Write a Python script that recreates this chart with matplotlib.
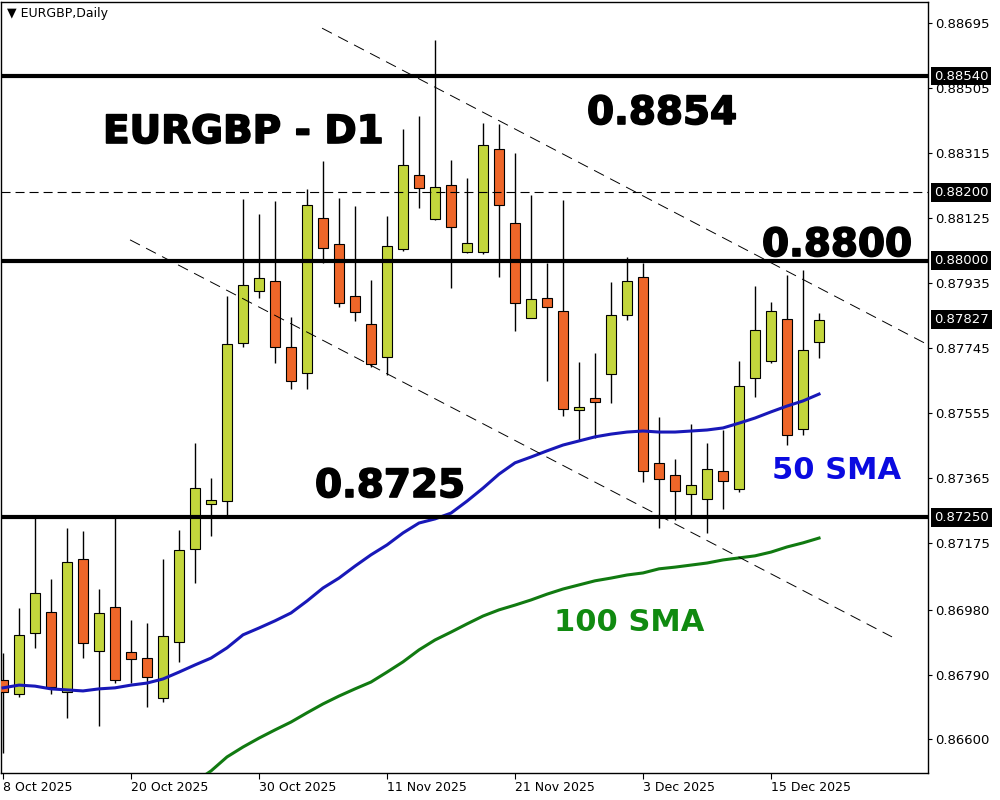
import numpy as np
import pandas as pd
import matplotlib
matplotlib.use('Agg')
import matplotlib.pyplot as plt
import matplotlib.patheffects as pe
import matplotlib.transforms as mtransforms

plt.rcParams['font.family'] = ['DejaVu Sans']
plt.rcParams['lines.scale_dashes'] = False

# EURGBP daily candles, 8 Oct - 18 Dec 2025
dates = pd.bdate_range('2025-10-08', periods=52)

opens = [0.86774, 0.86733, 0.86911, 0.86973, 0.86739, 0.87128, 0.86859, 0.86987,
         0.86856, 0.86838, 0.86721, 0.86885, 0.87157, 0.87289, 0.87297, 0.87759,
         0.87911, 0.87941, 0.87748, 0.87672, 0.88125, 0.88049, 0.87897, 0.87815,
         0.87718, 0.88034, 0.88251, 0.88122, 0.88221, 0.88026, 0.88026, 0.88327,
         0.88110, 0.87833, 0.87891, 0.87853, 0.87564, 0.87599, 0.87669, 0.87841,
         0.87952, 0.87409, 0.87373, 0.87318, 0.87303, 0.87385, 0.87333, 0.87657,
         0.87707, 0.87830, 0.87508, 0.87762]
highs = [0.86853, 0.86985, 0.87256, 0.87069, 0.87218, 0.87210, 0.87040, 0.87256,
         0.86949, 0.86941, 0.87128, 0.87213, 0.87467, 0.87365, 0.87897, 0.88180,
         0.88137, 0.88175, 0.87835, 0.88210, 0.88292, 0.88183, 0.88160, 0.87944,
         0.88131, 0.88385, 0.88423, 0.88645, 0.88295, 0.88242, 0.88403, 0.88400,
         0.88315, 0.88192, 0.87993, 0.88178, 0.87704, 0.87730, 0.87938, 0.88011,
         0.87993, 0.87543, 0.87420, 0.87523, 0.87467, 0.87505, 0.87707, 0.87926,
         0.87879, 0.87958, 0.87973, 0.87847]
lows = [0.86560, 0.86724, 0.86868, 0.86733, 0.86663, 0.86838, 0.86640, 0.86765,
        0.86765, 0.86695, 0.86710, 0.86827, 0.87058, 0.87195, 0.87256, 0.87748,
        0.87891, 0.87701, 0.87625, 0.87625, 0.87993, 0.87865, 0.87824, 0.87689,
        0.87666, 0.88028, 0.88154, 0.88119, 0.87920, 0.88023, 0.88020, 0.87952,
        0.87795, 0.87833, 0.87648, 0.87546, 0.87473, 0.87482, 0.87584, 0.87827,
        0.87353, 0.87218, 0.87242, 0.87256, 0.87204, 0.87274, 0.87324, 0.87602,
        0.87701, 0.87461, 0.87490, 0.87716]
closes = [0.86739, 0.86906, 0.87028, 0.86754, 0.87119, 0.86882, 0.86970, 0.86774,
          0.86835, 0.86783, 0.86903, 0.87154, 0.87335, 0.87300, 0.87756, 0.87929,
          0.87949, 0.87748, 0.87648, 0.88163, 0.88037, 0.87876, 0.87850, 0.87698,
          0.88043, 0.88280, 0.88213, 0.88216, 0.88099, 0.88052, 0.88338, 0.88163,
          0.87876, 0.87888, 0.87865, 0.87566, 0.87572, 0.87587, 0.87841, 0.87941,
          0.87385, 0.87362, 0.87327, 0.87344, 0.87391, 0.87356, 0.87634, 0.87797,
          0.87853, 0.87490, 0.87739, 0.87827]

# moving averages
sma50 = [0.86751, 0.86759, 0.86756, 0.86748, 0.86745, 0.86742, 0.86748, 0.86751,
         0.86759, 0.86765, 0.86777, 0.86797, 0.86818, 0.86838, 0.86868, 0.86906,
         0.86926, 0.86947, 0.86970, 0.87005, 0.87043, 0.87072, 0.87107, 0.87140,
         0.87169, 0.87204, 0.87233, 0.87245, 0.87262, 0.87297, 0.87335, 0.87376,
         0.87409, 0.87426, 0.87444, 0.87461, 0.87473, 0.87485, 0.87493, 0.87499,
         0.87502, 0.87499, 0.87499, 0.87502, 0.87505, 0.87511, 0.87525, 0.87540,
         0.87558, 0.87575, 0.87590, 0.87610]
sma100_start = 12
sma100 = [0.86476, 0.86508, 0.86549, 0.86578, 0.86604, 0.86628, 0.86651, 0.86678,
          0.86704, 0.86727, 0.86748, 0.86768, 0.86797, 0.86827, 0.86862, 0.86891,
          0.86914, 0.86938, 0.86961, 0.86979, 0.86993, 0.87008, 0.87025, 0.87040,
          0.87052, 0.87064, 0.87072, 0.87081, 0.87087, 0.87099, 0.87104, 0.87110,
          0.87116, 0.87125, 0.87131, 0.87137, 0.87148, 0.87163, 0.87175, 0.87189]

levels = [0.8854, 0.8800, 0.8725]
dashed_level = 0.8820
last_price = 0.87827
price_ticks = [0.88695, 0.88505, 0.88315, 0.88125, 0.87935, 0.87745,
               0.87555, 0.87365, 0.87175, 0.86980, 0.86790, 0.86600]

# channel trendline anchors (bar index, price)
upper_x, upper_y = [19.94, 57.69], [0.88680, 0.87757]
lower_x, lower_y = [7.94, 55.56], [0.88061, 0.86900]

GREEN = '#c3d63c'
ORANGE = '#ee6629'

fig = plt.figure(figsize=(10, 8), dpi=100)
ax = fig.add_axes([0.001, 0.03375, 0.927, 0.96375])

x = np.arange(len(dates))
o = np.array(opens)
h = np.array(highs)
l = np.array(lows)
c = np.array(closes)
up = c >= o

ax.vlines(x, l, h, color='black', lw=1, zorder=2)
ax.bar(x, np.maximum(np.abs(c - o), 0.00001), bottom=np.minimum(o, c), width=0.62,
       color=np.where(up, GREEN, ORANGE), edgecolor='black', linewidth=0.8, zorder=3)

ax.plot(x, sma50, color='#1818b8', lw=2.2, zorder=4)
ax.plot(x[sma100_start:], sma100, color='#117a11', lw=2.2, zorder=4)

for lvl in levels:
    ax.axhline(lvl, color='black', lw=3, zorder=5)
ax.axhline(dashed_level, color='black', lw=0.8, ls=(0, (6.5, 3.6)), zorder=5)

ax.plot(upper_x, upper_y, color='black', lw=0.7, ls=(0, (8, 5)), zorder=5)
ax.plot(lower_x, lower_y, color='black', lw=0.7, ls=(0, (8, 5)), zorder=5)

ax.set_xlim(-0.125, 57.81)
ax.set_ylim(0.86502, 0.887565)

ax.yaxis.tick_right()
ax.set_yticks(price_ticks)
ax.set_yticklabels([f'{t:.5f}' for t in price_ticks])
ax.tick_params(axis='y', direction='out', length=3, pad=2, labelsize=9.5, width=0.8)

xt = x[::8]
ax.set_xticks(xt)
ax.set_xticklabels([f'{d.day} {d.strftime("%b %Y")}' for d in dates[::8]], ha='left')
ax.tick_params(axis='x', direction='out', length=4, pad=2, labelsize=9, width=0.8)

for s in ax.spines.values():
    s.set_color('black')
    s.set_linewidth(1)

# highlighted price labels on the right axis
trans = mtransforms.blended_transform_factory(ax.transAxes, ax.transData)
for val in [levels[0], dashed_level, levels[1], last_price, levels[2]]:
    ax.text(1.0065, val, f'{val:.5f}', transform=trans, color='white', fontsize=9.5,
            ha='left', va='center', clip_on=False, zorder=10,
            bbox=dict(boxstyle='square,pad=0.22', fc='black', ec='none'))

fig.text(0.007, 1 - 14 / 800, '\u25bc EURGBP,Daily', fontsize=9, va='center', ha='left')

heavy = [pe.withStroke(linewidth=1.2, foreground='black')]
big = dict(fontsize=28, fontweight='bold', va='baseline', ha='left', color='black',
           path_effects=heavy)
fig.text(0.103, 1 - 143 / 800, 'EURGBP - D1', **big)
fig.text(0.587, 1 - 124 / 800, '0.8854', **big)
fig.text(0.762, 1 - 256 / 800, '0.8800', **big)
fig.text(0.315, 1 - 497 / 800, '0.8725', **big)

fig.text(0.772, 1 - 479 / 800, '50 SMA', fontsize=22, fontweight='bold',
         color='#0a0ae0', va='baseline', ha='left')
fig.text(0.554, 1 - 631 / 800, '100 SMA', fontsize=22, fontweight='bold',
         color='#108a10', va='baseline', ha='left')

fig.savefig('out.png', dpi=100)
